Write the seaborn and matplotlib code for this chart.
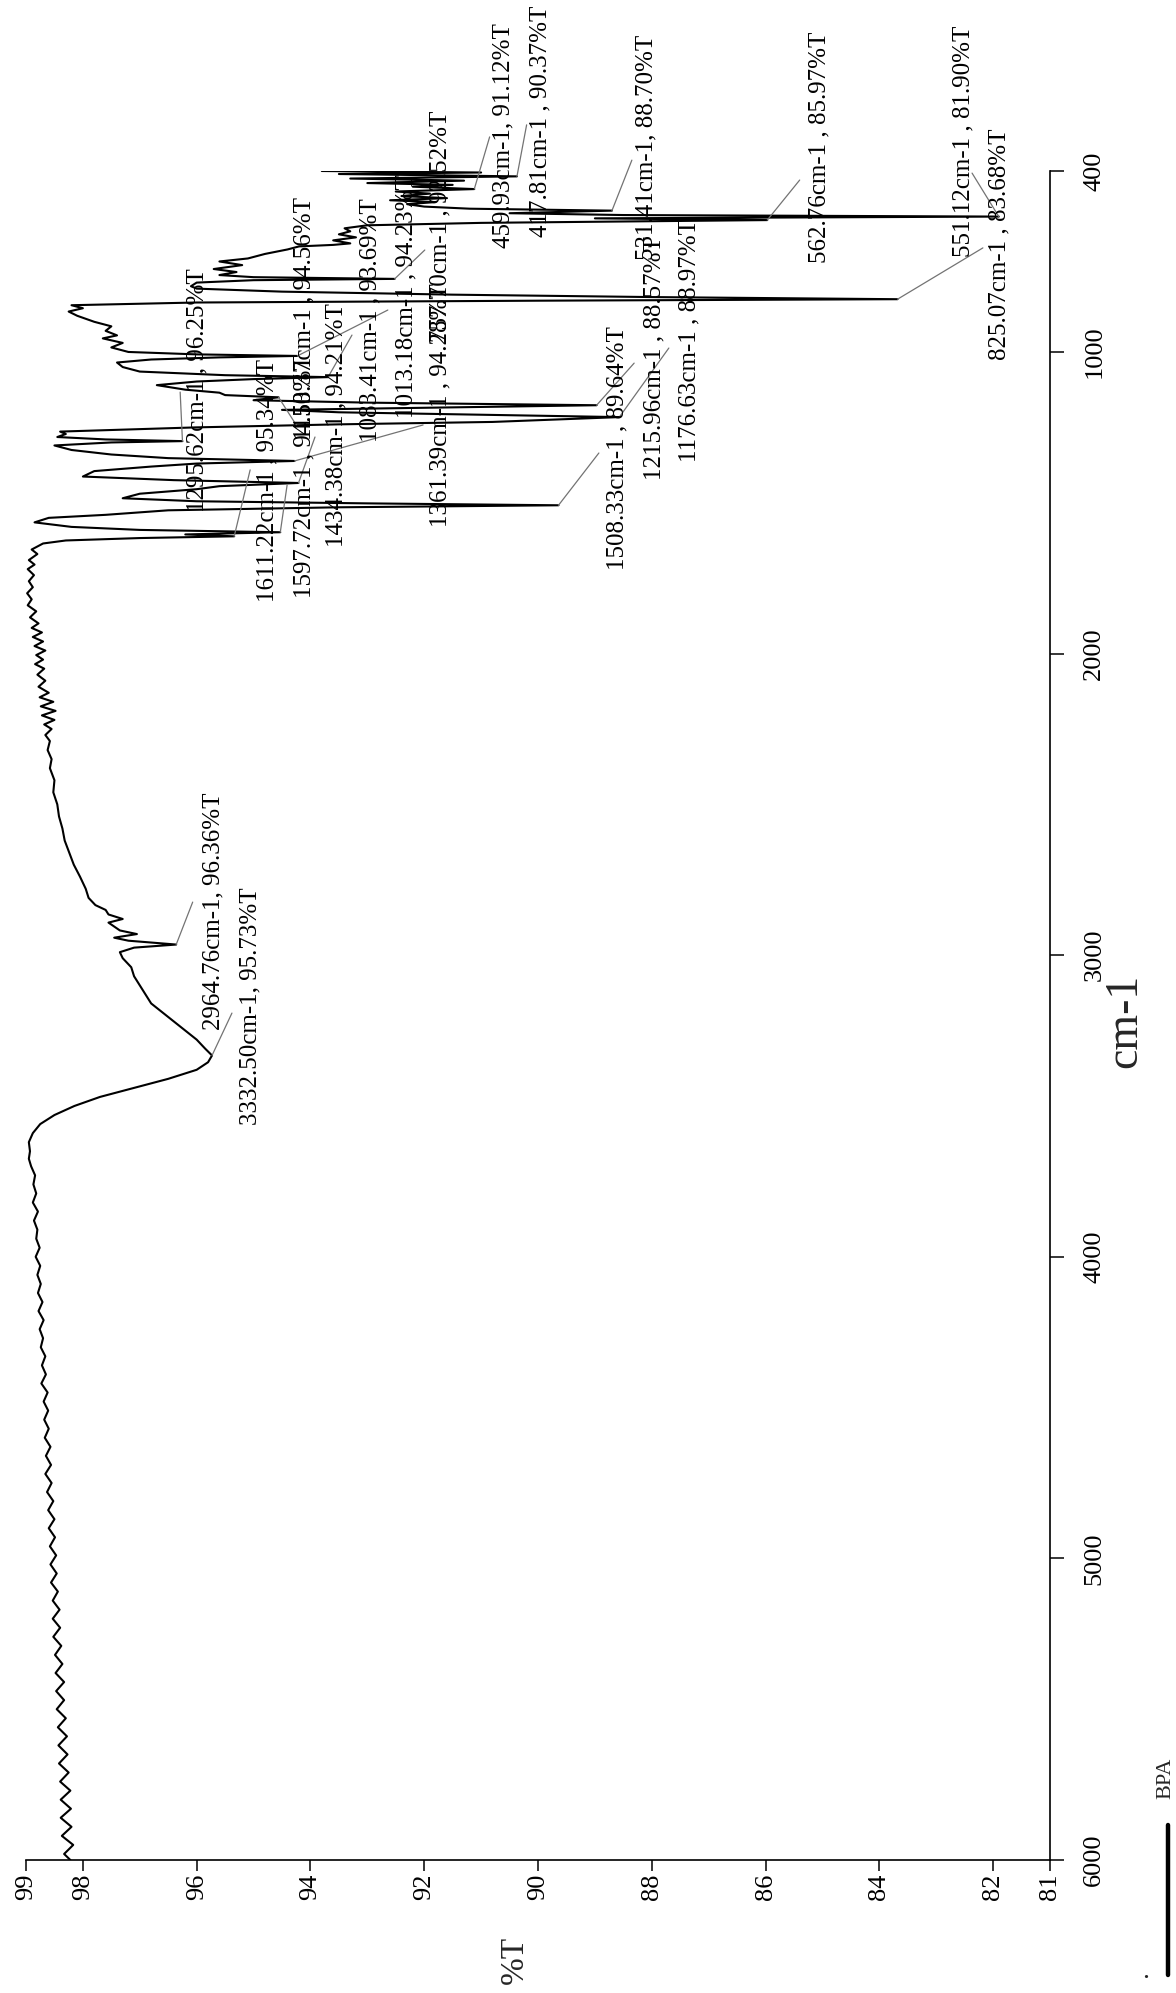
import matplotlib
matplotlib.use("Agg")
import matplotlib.pyplot as plt
from matplotlib.lines import Line2D
import numpy as np
import pandas as pd
import seaborn as sns

# ---------------- spectrum data: wavenumber (cm-1) and transmittance (%T) ----------------
fingerprint_wn = [400, 405, 410, 417.81, 425, 432, 440, 446, 452, 459.93, 468, 475, 483, 490,
                  497, 503, 510, 518, 525, 531.41, 540, 546, 551.12, 557, 562.76, 572, 580,
                  590, 600, 610, 620, 630, 640, 645, 650, 660, 675, 690, 700, 712, 725, 735,
                  745, 752, 757.70, 762, 770, 782, 790, 800, 810, 818, 825.07, 830, 836, 845,
                  855, 866, 880, 900, 915, 930, 945, 955, 970, 985, 1000, 1008, 1013.18, 1018,
                  1025, 1035, 1050, 1065, 1077, 1083.41, 1090, 1098, 1110, 1125, 1135, 1143,
                  1150.37, 1160, 1168, 1176.63, 1185, 1192, 1200, 1208, 1215.96, 1225, 1232,
                  1240, 1250, 1264, 1272, 1282, 1290, 1295.62, 1300, 1310, 1325, 1340, 1352,
                  1361.39, 1370, 1380, 1395, 1413, 1425, 1434.38, 1445, 1455, 1470, 1485,
                  1495, 1502, 1508.33, 1515, 1525, 1540, 1550, 1565, 1580, 1590, 1597.72,
                  1605, 1611.22, 1617, 1625, 1635]
fingerprint_T = [93.8, 91.0, 93.5, 90.37, 93.3, 91.3, 93.0, 91.5, 92.2, 91.12, 92.5, 91.9, 92.4,
                 91.6, 92.6, 91.8, 92.3, 92.0, 91.2, 88.70, 90.5, 88.5, 81.90, 89.0, 85.97, 91.0,
                 93.0, 93.4, 93.3, 93.5, 93.2, 93.6, 93.3, 93.6, 94.2, 94.4, 94.8, 95.1, 95.6,
                 95.2, 95.7, 95.3, 95.6, 95.0, 92.52, 95.0, 96.0, 96.1, 96.0, 94.5, 91.5, 88.0,
                 83.68, 90.0, 96.0, 98.2, 98.0, 98.25, 98.1, 97.8, 97.5, 97.6, 97.4, 97.65, 97.3,
                 97.5, 97.2, 96.0, 94.23, 95.6, 96.8, 97.4, 97.3, 97.0, 95.5, 93.69, 95.0, 96.0,
                 96.7, 96.2, 95.6, 95.5, 94.56, 95.0, 93.0, 88.97, 92.0, 94.5, 93.5, 91.0, 88.57,
                 89.8, 90.8, 93.5, 96.0, 98.4, 98.3, 98.45, 97.6, 96.25, 97.5, 98.5, 98.2, 97.5,
                 96.5, 94.28, 96.0, 96.8, 97.8, 98.0, 96.4, 94.21, 95.6, 96.0, 97.0, 97.3, 96.0,
                 93.0, 89.64, 93.5, 96.5, 97.6, 98.6, 98.85, 98.2, 97.0, 94.53, 96.2, 95.34,
                 97.0, 98.3, 98.7]

mid_wn = [1640, 1655, 1670, 1690, 1705, 1720, 1740, 1760, 1780, 1800, 1820, 1840, 1860, 1880,
          1900, 1915, 1930, 1945, 1960, 1975, 1990, 2005, 2020, 2035, 2050, 2070, 2090, 2110,
          2130, 2145, 2160, 2175, 2190, 2205, 2220, 2235, 2250, 2270, 2290, 2320, 2350, 2380,
          2420, 2460, 2500, 2540, 2580, 2620, 2660, 2700, 2740, 2780, 2810, 2834, 2850, 2865,
          2880, 2892, 2905, 2918, 2930, 2942, 2952, 2964.76, 2975, 2990, 3010, 3040, 3070,
          3100, 3130, 3160, 3190, 3220, 3250, 3280, 3310, 3332.50, 3355, 3380, 3410, 3440,
          3470, 3500, 3530, 3560, 3590, 3620, 3650, 3675]
mid_T = [98.75, 98.9, 98.8, 98.95, 98.85, 98.97, 98.86, 98.95, 98.88, 98.98, 98.9, 98.97, 98.82,
         98.93, 98.78, 98.9, 98.72, 98.88, 98.7, 98.85, 98.66, 98.82, 98.7, 98.84, 98.68, 98.8,
         98.66, 98.78, 98.6, 98.76, 98.52, 98.74, 98.48, 98.72, 98.5, 98.68, 98.55, 98.66,
         98.58, 98.62, 98.55, 98.58, 98.5, 98.52, 98.45, 98.42, 98.36, 98.32, 98.24, 98.16,
         98.05, 97.95, 97.9, 97.78, 97.6, 97.55, 97.3, 97.55, 97.45, 97.35, 97.05, 97.45, 97.2,
         96.36, 97.1, 97.35, 97.3, 97.15, 97.1, 97.0, 96.9, 96.8, 96.6, 96.4, 96.2, 96.0, 95.85,
         95.73, 95.8, 96.0, 96.5, 97.1, 97.7, 98.15, 98.5, 98.75, 98.88, 98.95, 98.93, 98.95]

baseline_wn = [3700, 3730, 3760, 3790, 3820, 3850, 3880, 3910, 3940, 3970, 4000, 4030, 4060,
               4090, 4120, 4150, 4180, 4210, 4240, 4270, 4300, 4330, 4360, 4390, 4420, 4450,
               4480, 4510, 4540, 4570, 4600, 4630, 4660, 4690, 4720, 4750, 4780, 4810, 4840,
               4870, 4900, 4930, 4960, 4990, 5020, 5050, 5080, 5110, 5140, 5170, 5200, 5230,
               5260, 5290, 5320, 5350, 5380, 5410, 5440, 5470, 5500, 5530, 5560, 5590, 5620,
               5650, 5680, 5710, 5740, 5770, 5800, 5830, 5860, 5890, 5920, 5950, 5980, 6000]
baseline_T = [98.91, 98.84, 98.87, 98.82, 98.88, 98.79, 98.86, 98.80, 98.82, 98.76, 98.83, 98.75,
              98.80, 98.74, 98.79, 98.71, 98.78, 98.69, 98.76, 98.70, 98.74, 98.66, 98.72, 98.65,
              98.73, 98.62, 98.69, 98.61, 98.68, 98.60, 98.67, 98.57, 98.65, 98.56, 98.66, 98.55,
              98.63, 98.52, 98.61, 98.50, 98.60, 98.49, 98.58, 98.47, 98.57, 98.46, 98.56, 98.44,
              98.53, 98.41, 98.53, 98.40, 98.52, 98.38, 98.49, 98.36, 98.48, 98.33, 98.47, 98.33,
              98.46, 98.30, 98.44, 98.28, 98.43, 98.27, 98.42, 98.25, 98.40, 98.22, 98.39, 98.21,
              98.39, 98.20, 98.37, 98.17, 98.33, 98.22]

# ---------------- labelled peaks ----------------
peak_wn = [2964.76, 3332.50, 1295.62, 1611.22, 1597.72, 1150.37, 1434.38, 1083.41, 1013.18,
           1361.39, 757.70, 1508.33, 1215.96, 1176.63, 531.41, 459.93, 417.81, 562.76, 551.12,
           825.07]
peak_T = [96.36, 95.73, 96.25, 95.34, 94.53, 94.56, 94.21, 93.69, 94.23, 94.28, 92.52, 89.64,
          88.57, 88.97, 88.70, 91.12, 90.37, 85.97, 81.90, 83.68]
peak_spaced = [False, False, True, True, True, True, True, True, True, True, True, True, True,
               True, False, False, True, True, True, True]

x_ticks = [99, 98, 96, 94, 92, 90, 88, 86, 84, 82, 81]
y_ticks = [400, 1000, 2000, 3000, 4000, 5000, 6000]

# label layout: text start (T, wn) and end of the leader line (T, wn)
label_anchor = [(95.70, 3248), (95.05, 3563), (95.99, 1531), (94.75, 1829), (94.11, 1816),
                (94.11, 1292), (93.55, 1647), (92.94, 1299), (92.32, 1219), (91.71, 1580),
                (91.71, 967), (88.60, 1723), (87.95, 1425), (87.33, 1365), (88.09, 695),
                (90.60, 655), (89.95, 619), (85.05, 705), (82.53, 685), (81.88, 1027)]
leader_end = [(96.07, 2824), (95.38, 3192), (96.29, 1133), (95.06, 1391), (94.41, 1441),
              (94.25, 1242), (93.92, 1282), (93.27, 944), (92.64, 861), (92.02, 1242),
              (91.99, 662), (88.93, 1335), (87.70, 987), (88.31, 1037), (88.35, 364),
              (90.85, 287), (90.20, 247), (85.40, 430), (82.37, 407), (82.18, 655)]

# ---------------- figure ----------------
sns.set_theme(style="ticks")
plt.rcParams["font.family"] = ["Liberation Serif", "DejaVu Serif"]
plt.rcParams["axes.edgecolor"] = "black"

W, H = 1176, 1993
fig = plt.figure(figsize=(W / 100, H / 100), dpi=100)
fig.patch.set_facecolor("white")
ax = fig.add_axes([26 / W, 1 - 1860 / H, (1050 - 26) / W, (1860 - 171) / H])
ax.set_facecolor("white")

spec = pd.DataFrame({
    "wn": fingerprint_wn + mid_wn + baseline_wn,
    "T": fingerprint_T + mid_T + baseline_T,
}).sort_values("wn")

sns.lineplot(data=spec, x="T", y="wn", sort=False, estimator=None, orient="y",
             color="black", linewidth=1.5, ax=ax)

ax.set_xlim(99, 81)
ax.set_ylim(6000, 400)

ax.spines["left"].set_visible(False)
ax.spines["top"].set_visible(False)
for s in ("right", "bottom"):
    ax.spines[s].set_linewidth(1.2)
    ax.spines[s].set_color("black")

ax.set_xticks(x_ticks)
ax.set_xticklabels([str(v) for v in x_ticks], rotation=90)
ax.tick_params(axis="x", direction="out", length=8, width=1.1, pad=2, labelsize=19,
               colors="black")
ax.yaxis.tick_right()
ax.set_yticks(y_ticks)
ax.set_yticklabels([str(v) for v in y_ticks], rotation=90, va="center")
ax.tick_params(axis="y", direction="out", length=10, width=1.1, pad=14, labelsize=19,
               colors="black")
ax.set_xlabel("")
ax.set_ylabel("")

# peak annotations with leader lines
for w, t, sp, (ax_t, ax_w), (le_t, le_w) in zip(peak_wn, peak_T, peak_spaced,
                                                 label_anchor, leader_end):
    ax.plot([t, le_t], [w, le_w], color="0.45", linewidth=0.9, clip_on=False, zorder=3)
    txt = f"{w:.2f}cm-1{' ' if sp else ''}, {t:.2f}%T"
    ax.text(ax_t, ax_w, txt, rotation=90, rotation_mode="anchor", ha="left", va="center",
            fontsize=18, color="black", clip_on=False, zorder=4)

# axis titles
fig.text(1125 / W, 1 - 1021 / H, "cm-1", rotation=90, fontsize=33, ha="center", va="center")
fig.text(515 / W, 1 - 1960 / H, "%T", rotation=90, fontsize=24, ha="center", va="center")

# legend entry
fig.add_artist(Line2D([1168 / W, 1168 / W], [1 - 1825 / H, 1 - 1975 / H], color="black",
                      linewidth=3.2, transform=fig.transFigure))
fig.text(1166 / W, 1 - 1778 / H, "BPA", rotation=90, fontsize=16, ha="center", va="center")
fig.text(1146 / W, 1 - 1972 / H, ".", fontsize=20, ha="center", va="center")

fig.savefig("out.png", dpi=100, facecolor="white")
